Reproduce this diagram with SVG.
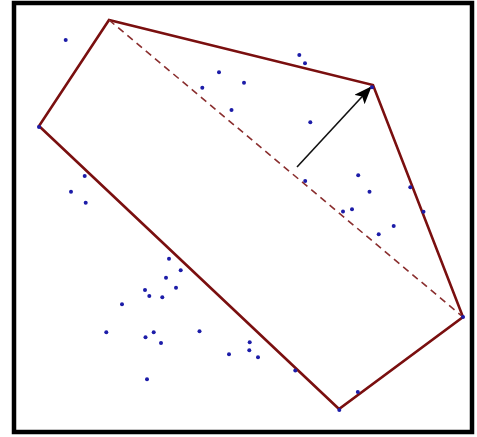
<svg xmlns="http://www.w3.org/2000/svg" width="477" height="437" viewBox="0 0 477 437">
  <style>
    .pt { fill: #1c1ca8; }
    .hull { fill: none; stroke: #7a0f0f; stroke-width: 2.6; stroke-linejoin: miter; }
    .diag { fill: none; stroke: #8a2e2e; stroke-width: 1.6; stroke-dasharray: 7 5; }
    .arrow { fill: none; stroke: #111; stroke-width: 1.6; }
  </style>
  <defs>
    <marker id="ahead" viewBox="0 0 18 14" refX="17" refY="7" markerWidth="18" markerHeight="14" markerUnits="userSpaceOnUse" orient="auto">
      <path d="M0,0 L18,7 L0,14 L4,7 Z" fill="#000"/>
    </marker>
  </defs>
  <rect x="0" y="0" width="477" height="437" fill="#fff"/>
  <rect id="frame" x="14" y="3" width="458" height="429" fill="#fff" stroke="#000" stroke-width="4.5"/>

  <g id="connectors">
    <polygon id="hull" class="hull" points="109,20 39,126 339,409 463,317 373,85"/>
    <line id="diagonal" class="diag" x1="109" y1="20" x2="463" y2="317"/>
    <line id="arrow" class="arrow" x1="297" y1="167" x2="371" y2="87" marker-end="url(#ahead)"/>
  </g>

  <g id="points">
    <circle class="pt" cx="65.7" cy="40" r="2"/>
    <circle class="pt" cx="219" cy="72.3" r="2"/>
    <circle class="pt" cx="202.3" cy="87.7" r="2"/>
    <circle class="pt" cx="231.5" cy="110" r="2"/>
    <circle class="pt" cx="39" cy="127" r="2"/>
    <circle class="pt" cx="84.7" cy="176" r="2"/>
    <circle class="pt" cx="71" cy="191.7" r="2"/>
    <circle class="pt" cx="85.7" cy="202.7" r="2"/>
    <circle class="pt" cx="299.3" cy="55" r="2"/>
    <circle class="pt" cx="305" cy="63.3" r="2"/>
    <circle class="pt" cx="244" cy="82.7" r="2"/>
    <circle class="pt" cx="372" cy="87.3" r="2"/>
    <circle class="pt" cx="310.3" cy="122.3" r="2"/>
    <circle class="pt" cx="305.2" cy="181" r="2"/>
    <circle class="pt" cx="358.2" cy="175.2" r="2"/>
    <circle class="pt" cx="369.5" cy="191.7" r="2"/>
    <circle class="pt" cx="410.3" cy="187.3" r="2"/>
    <circle class="pt" cx="343" cy="211.5" r="2"/>
    <circle class="pt" cx="352" cy="209.3" r="2"/>
    <circle class="pt" cx="423.5" cy="211.7" r="2"/>
    <circle class="pt" cx="393.7" cy="226" r="2"/>
    <circle class="pt" cx="378.7" cy="234.2" r="2"/>
    <circle class="pt" cx="463" cy="317" r="2"/>
    <circle class="pt" cx="249.7" cy="342.3" r="2"/>
    <circle class="pt" cx="249.3" cy="350.3" r="2"/>
    <circle class="pt" cx="258" cy="357.3" r="2"/>
    <circle class="pt" cx="229" cy="354.3" r="2"/>
    <circle class="pt" cx="295.3" cy="370.5" r="2"/>
    <circle class="pt" cx="357.8" cy="392" r="2"/>
    <circle class="pt" cx="339.3" cy="410" r="2"/>
    <circle class="pt" cx="169" cy="258.7" r="2"/>
    <circle class="pt" cx="180.7" cy="270.3" r="2"/>
    <circle class="pt" cx="166" cy="277.7" r="2"/>
    <circle class="pt" cx="145" cy="290" r="2"/>
    <circle class="pt" cx="176" cy="287.7" r="2"/>
    <circle class="pt" cx="149.3" cy="296" r="2"/>
    <circle class="pt" cx="162.3" cy="297.3" r="2"/>
    <circle class="pt" cx="122" cy="304.3" r="2"/>
    <circle class="pt" cx="106.3" cy="332.2" r="2"/>
    <circle class="pt" cx="145.5" cy="337.3" r="2"/>
    <circle class="pt" cx="153.7" cy="332.3" r="2"/>
    <circle class="pt" cx="161" cy="343" r="2"/>
    <circle class="pt" cx="199.5" cy="331.2" r="2"/>
    <circle class="pt" cx="147" cy="379.3" r="2"/>
  </g>
</svg>
